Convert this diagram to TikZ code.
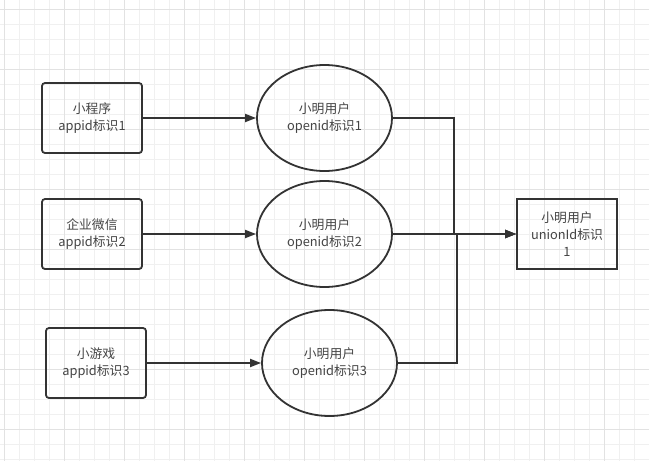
\documentclass[tikz,border=0pt]{standalone}
\usepackage{fontspec}
\setmainfont{Noto Sans CJK SC}
\usetikzlibrary{arrows.meta,shapes.geometric}
\definecolor{ink}{HTML}{333333}
\definecolor{txt}{HTML}{444444}
\definecolor{gridminor}{HTML}{F0F0F0}
\definecolor{gridmajor}{HTML}{E2E2E2}
\tikzset{
  lbl/.style={text=txt,align=center,font=\fontsize{12.8}{17}\selectfont},
  rbox/.style={lbl,draw=ink,line width=1.8pt,rounded corners=3pt,minimum width=100pt,minimum height=70pt,inner sep=0pt},
  sbox/.style={lbl,draw=ink,line width=1.8pt,minimum width=100pt,minimum height=70pt,inner sep=0pt},
  oval/.style={lbl,draw=ink,line width=1.8pt,ellipse,minimum width=135pt,minimum height=106pt,inner sep=0pt},
  edge/.style={draw=ink,line width=1.8pt,-{Triangle[length=11pt,width=8pt]}},
  gminor/.style={draw=gridminor,line width=1pt},
  gmajor/.style={draw=gridmajor,line width=1pt}
}
\begin{document}
\begin{tikzpicture}[x=1pt,y=-1pt]
\useasboundingbox (0,0) rectangle (649,461);
\fill[white] (0,0) rectangle (649,461);
\foreach \x in {4,19,...,649} \draw[gminor] (\x,0) -- (\x,461);
\foreach \y in {9,24,...,461} \draw[gminor] (0,\y) -- (649,\y);
\foreach \x in {4,64,...,649} \draw[gmajor] (\x,0) -- (\x,461);
\foreach \y in {9,69,...,461} \draw[gmajor] (0,\y) -- (649,\y);

\node[rbox] (a1) at (92,118) {小程序\\appid标识1};
\node[rbox] (a2) at (92,234) {企业微信\\appid标识2};
\node[rbox] (a3) at (96,363) {小游戏\\appid标识3};

\node[oval] (o1) at (324.5,118) {小明用户\\openid标识1};
\node[oval] (o2) at (324.5,234) {小明用户\\openid标识2};
\node[oval] (o3) at (329.5,363) {小明用户\\openid标识3};

\node[sbox] (u) at (567,234) {小明用户\\unionId标识\\1};

\coordinate (j1) at (454,234);
\coordinate (j3) at (457,234);

\draw[edge] (a1.east) -- (o1.west);
\draw[edge] (a2.east) -- (o2.west);
\draw[edge] (a3.east) -- (o3.west);
\draw[edge] (o1.east) -| (j1) -- (u.west);
\draw[edge] (o2.east) -- (u.west);
\draw[edge] (o3.east) -| (j3) -- (u.west);
\end{tikzpicture}
\end{document}
